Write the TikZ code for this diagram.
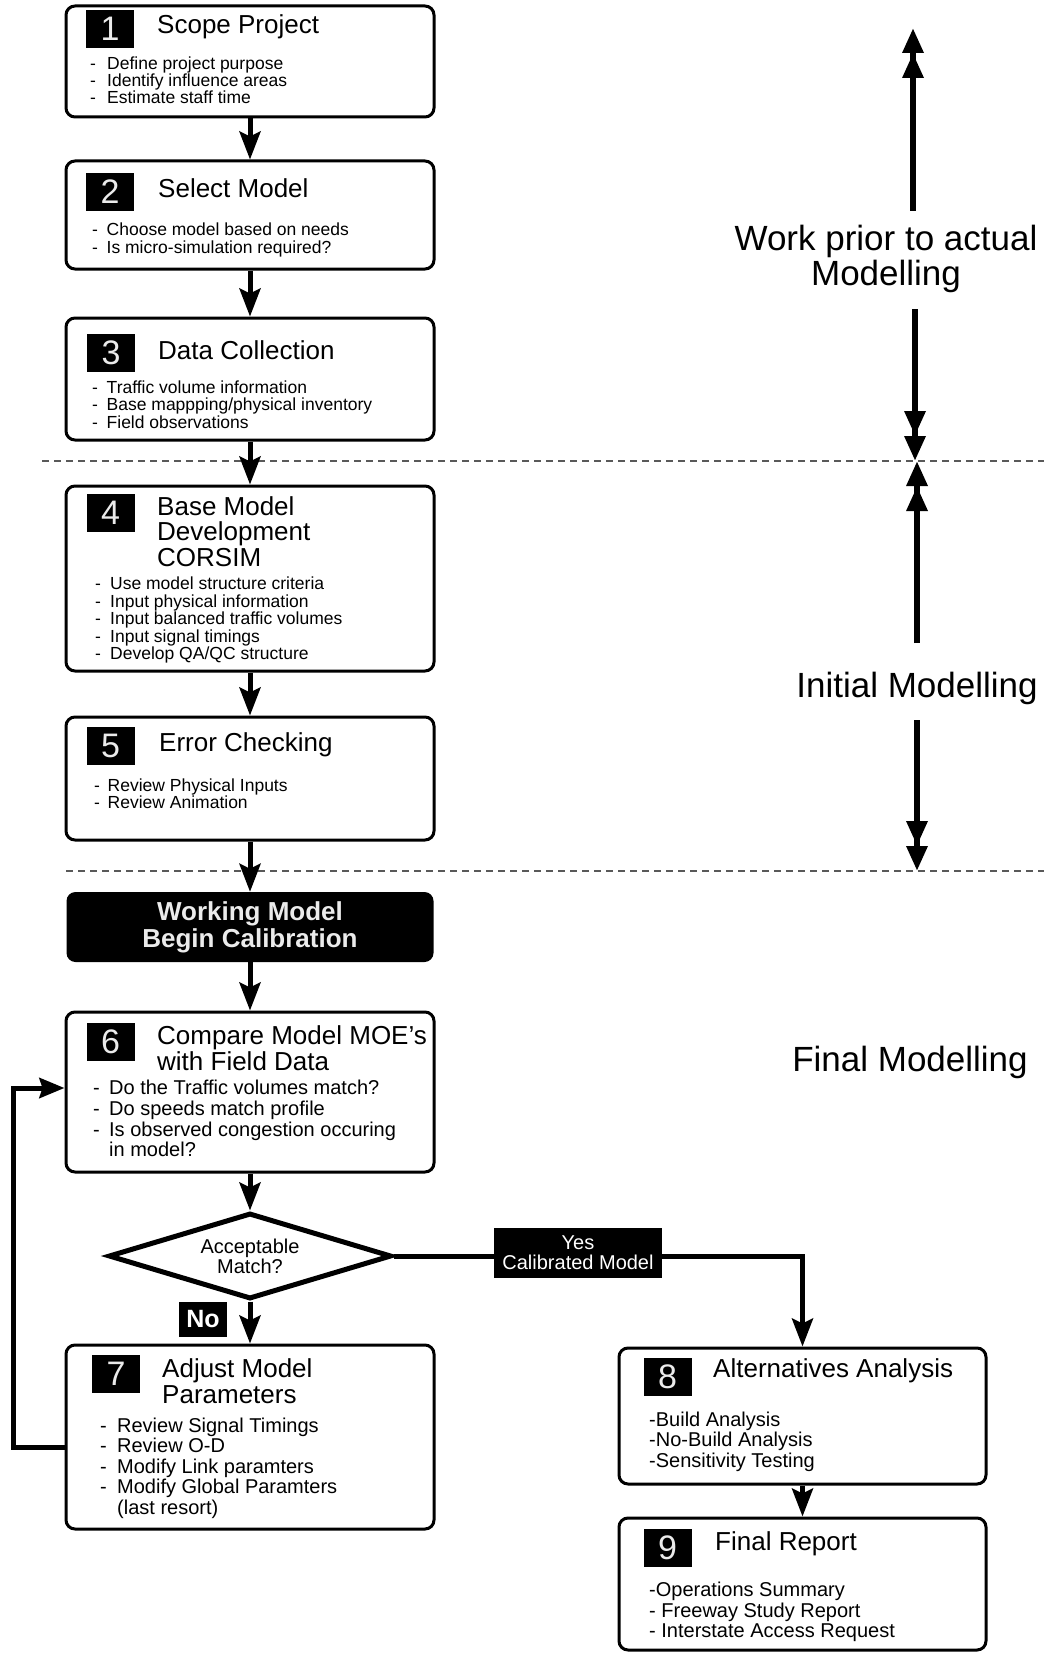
\documentclass[tikz,border=0pt]{standalone}
\usepackage{fontspec}
\setmainfont{Liberation Sans}
\usetikzlibrary{arrows.meta,shapes.geometric}
\newlength{\bulw}
\newcommand{\dashit}[1]{\makebox[\bulw][l]{-}#1}
\newcommand{\lstk}[2]{\vtop{\baselineskip=#1\lineskiplimit=-100pt\relax\halign{##\hfil\cr#2}}}
\newcommand{\cstk}[2]{\vtop{\baselineskip=#1\lineskiplimit=-100pt\relax\halign{\hfil##\hfil\cr#2}}}
\begin{document}
\begin{tikzpicture}[x=1pt,y=-1pt,
 procbox/.style={draw=black, line width=3pt, rounded corners=9pt, inner sep=0pt, fill=white},
 numbox/.style={fill=black, minimum width=48pt, minimum height=38pt, inner sep=0pt, text=black!8, font=\fontsize{34}{34}\selectfont},
 ttl/.style={anchor=base west, inner sep=0pt, font=\fontsize{26}{26}\selectfont},
 lst/.style={anchor=base west, inner sep=0pt},
 flow/.style={line width=5pt, -{Stealth[width=21pt,length=28pt,inset=5pt]}},
 loopflow/.style={line width=5pt, -{Stealth[width=20pt,length=25pt,inset=3pt]}},
 band/.style={line width=6pt, -{Triangle[width=20pt,length=25pt]Triangle[width=20pt,length=25pt]}},
 dashsep/.style={draw=black!65, line width=1.6pt, dash pattern=on 7pt off 5pt},
 bigtxt/.style={inner sep=0pt, anchor=base, font=\fontsize{35}{35}\selectfont},
 blackbox/.style={fill=black, text=white, inner sep=0pt}
]
\fill[white] (0,0) rectangle (1044,1653);
\useasboundingbox (0,0) rectangle (1044,1653);

% separators
\draw[dashsep] (42,461) -- (1044,461);
\draw[dashsep] (66,871) -- (1044,871);

% boxes
\node[procbox, minimum width=368pt, minimum height=111pt] (box1) at (250,61.5) {};
\node[procbox, minimum width=368pt, minimum height=108pt] (box2) at (250,215) {};
\node[procbox, minimum width=368pt, minimum height=122pt] (box3) at (250,379) {};
\node[procbox, minimum width=368pt, minimum height=185pt] (box4) at (250,578.5) {};
\node[procbox, minimum width=368pt, minimum height=123pt] (box5) at (250,778.5) {};
\node[fill=black, rounded corners=9pt, minimum width=367pt, minimum height=70pt, inner sep=0pt, text=black!8, font=\bfseries\fontsize{26}{27}\selectfont, align=center] (wm) at (250,927) {Working Model\\Begin Calibration};
\node[procbox, minimum width=368pt, minimum height=160pt] (box6) at (250,1092) {};
\node[diamond, draw, line width=5pt, fill=white, shape aspect=3.3, minimum width=283pt, minimum height=86pt, inner sep=0pt, font=\fontsize{20}{20}\selectfont, align=center] (dia) at (250,1256) {Acceptable\\Match?};
\node[procbox, minimum width=368pt, minimum height=184pt] (box7) at (250,1437) {};
\node[procbox, minimum width=367pt, minimum height=136pt] (box8) at (802.5,1416) {};
\node[procbox, minimum width=367pt, minimum height=132pt] (box9) at (802.5,1584) {};

% number squares
\node[numbox] (n1) at (110,29) {1};
\node[numbox] (n2) at (110,192) {2};
\node[numbox] (n3) at (111,353) {3};
\node[numbox] (n4) at (110.5,513) {4};
\node[numbox] (n5) at (110.5,746) {5};
\node[numbox] (n6) at (110.5,1041.5) {6};
\node[numbox] (n7) at (116,1374) {7};
\node[numbox] (n8) at (667.5,1376.5) {8};
\node[numbox] (n9) at (667.5,1548) {9};

% titles
\node[ttl] (t1) at (157,34) {Scope Project};
\node[ttl] (t2) at (158,198) {Select Model};
\node[ttl] (t3) at (158,359) {Data Collection};
\node[ttl] (t4) at (157,515) {\lstk{25.5pt}{Base Model\cr Development\cr CORSIM\cr}};
\node[ttl] (t5) at (159,751) {Error Checking};
\node[ttl] (t6) at (157,1044) {\lstk{26pt}{Compare Model MOE’s\cr with Field Data\cr}};
\node[ttl] (t7) at (162,1377) {\lstk{26pt}{Adjust Model\cr Parameters\cr}};
\node[ttl] (t8) at (713,1377) {Alternatives Analysis};
\node[ttl] (t9) at (715,1550) {Final Report};

% bullet lists
\node[lst, font=\fontsize{17.5}{17.5}\selectfont] (b1) at (90,69.5) {\bulw=17pt\lstk{17.2pt}{\dashit{Define project purpose}\cr\dashit{Identify influence areas}\cr\dashit{Estimate staff time}\cr}};
\node[lst, font=\fontsize{17.5}{17.5}\selectfont] (b2) at (92,236) {\bulw=14.5pt\lstk{17.5pt}{\dashit{Choose model based on needs}\cr\dashit{Is micro-simulation required?}\cr}};
\node[lst, font=\fontsize{17.5}{17.5}\selectfont] (b3) at (92,393.5) {\bulw=14.5pt\lstk{17.3pt}{\dashit{Traffic volume information}\cr\dashit{Base mappping/physical inventory}\cr\dashit{Field observations}\cr}};
\node[lst, font=\fontsize{17.5}{17.5}\selectfont] (b4) at (95,589.5) {\bulw=15pt\lstk{17.6pt}{\dashit{Use model structure criteria}\cr\dashit{Input physical information}\cr\dashit{Input balanced traffic volumes}\cr\dashit{Input signal timings}\cr\dashit{Develop QA/QC structure}\cr}};
\node[lst, font=\fontsize{17.5}{17.5}\selectfont] (b5) at (94,791) {\bulw=13.5pt\lstk{17.5pt}{\dashit{Review Physical Inputs}\cr\dashit{Review Animation}\cr}};
\node[lst, font=\fontsize{20}{20}\selectfont] (b6) at (93,1094.5) {\bulw=16pt\lstk{20.8pt}{\dashit{Do the Traffic volumes match?}\cr\dashit{Do speeds match profile}\cr\dashit{Is observed congestion occuring}\cr\hskip\bulw in model?\cr}};
\node[lst, font=\fontsize{20}{20}\selectfont] (b7) at (100,1432) {\bulw=17pt\lstk{20.5pt}{\dashit{Review Signal Timings}\cr\dashit{Review O-D}\cr\dashit{Modify Link paramters}\cr\dashit{Modify Global Paramters}\cr\hskip\bulw (last resort)\cr}};
\node[lst, font=\fontsize{20}{20}\selectfont] (b8) at (649,1426) {\lstk{20.5pt}{-Build Analysis\cr -No-Build Analysis\cr -Sensitivity Testing\cr}};
\node[lst, font=\fontsize{20}{20}\selectfont] (b9) at (649,1596.5) {\lstk{20.5pt}{-Operations Summary\cr - Freeway Study Report\cr - Interstate Access Request\cr}};

% connectors
\draw[flow] (box1.south) -- (box2.north);
\draw[flow] (box2.south) -- (box3.north);
\draw[flow] (box3.south) -- (box4.north);
\draw[flow] (box4.south) -- (box5.north);
\draw[flow] (box5.south) -- (wm.north);
\draw[flow] (wm.south) -- (box6.north);
\draw[flow] (box6.south) -- (dia.north);
\draw[flow] (dia.south) -- (box7.north);
\draw[flow] (dia.east) -| (box8.north);
\draw[flow] (box8.south) -- (box9.north);
\coordinate (fb) at (13,1250);
\draw[loopflow] ([yshift=-10pt]box7.west) -| (fb) |- ([yshift=4pt]box6.west);

% labels on connectors
\node[blackbox, minimum width=168pt, minimum height=50pt, font=\fontsize{20}{20}\selectfont, align=center] (yes) at (578,1253) {Yes\\Calibrated Model};
\node[blackbox, minimum width=48pt, minimum height=35pt, font=\bfseries\fontsize{25}{25}\selectfont] (no) at (203,1319.5) {No};

% right-hand phases
\node[bigtxt] (wp) at (886,251) {\cstk{35pt}{Work prior to actual\cr Modelling\cr}};
\node[bigtxt] (im) at (917,697) {Initial Modelling};
\node[bigtxt] (fm) at (910,1071) {Final Modelling};

\coordinate (a1s) at (913,211); \coordinate (a1e) at (913,28);
\coordinate (a2s) at (915,309); \coordinate (a2e) at (915,461);
\coordinate (a3s) at (917,643); \coordinate (a3e) at (917,461);
\coordinate (a4s) at (917,720); \coordinate (a4e) at (917,871);
\draw[band] (a1s) -- (a1e);
\draw[band] (a2s) -- (a2e);
\draw[band] (a3s) -- (a3e);
\draw[band] (a4s) -- (a4e);
\end{tikzpicture}
\end{document}
